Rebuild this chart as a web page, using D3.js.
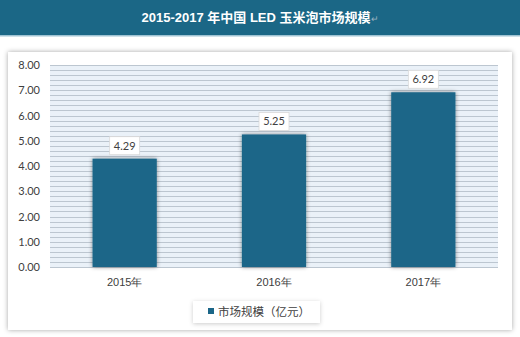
<!DOCTYPE html>
<html><head><meta charset="utf-8">
<script src="https://cdn.jsdelivr.net/npm/d3@7"></script>
<style>
html,body{margin:0;padding:0;background:#fff;}
svg{display:block;font-family:Lato,"Noto Sans CJK SC",sans-serif;}
</style></head>
<body><svg id="c" width="520" height="337"></svg>
<script>
const titleText = "2015-2017 年中国 LED 玉米泡市场规模";
const categories = ["2015年","2016年","2017年"];
const values = [4.29, 5.25, 6.92];
const yTicks = [0,1,2,3,4,5,6,7,8];
const seriesName = "市场规模（亿元）";

const svg = d3.select("#c");
const defs = svg.append("defs");
const f = defs.append("filter").attr("id","sh").attr("x","-20%").attr("y","-20%").attr("width","140%").attr("height","140%");
f.append("feDropShadow").attr("dx",0).attr("dy",0).attr("stdDeviation",2.5).attr("flood-color","#000").attr("flood-opacity",0.35);
const f2 = defs.append("filter").attr("id","bsh").attr("x","-20%").attr("y","-10%").attr("width","140%").attr("height","120%");
f2.append("feDropShadow").attr("dx",0).attr("dy",0).attr("stdDeviation",2).attr("flood-color","#000").attr("flood-opacity",0.45);
const f3 = defs.append("filter").attr("id","lsh").attr("x","-30%").attr("y","-50%").attr("width","160%").attr("height","200%");
f3.append("feDropShadow").attr("dx",0).attr("dy",1).attr("stdDeviation",2).attr("flood-color","#000").attr("flood-opacity",0.2);

// title bar
svg.append("rect").attr("x",0).attr("y",0).attr("width",520).attr("height",36).attr("fill","#1b6786");
svg.append("rect").attr("x",0).attr("y",35).attr("width",520).attr("height",1.5).attr("fill","#9fc3d3");
const tt = svg.append("text").attr("x",260).attr("y",22).attr("text-anchor","middle")
  .attr("fill","#fff").attr("font-size",13).attr("font-weight","bold")
  .attr("font-family","'Liberation Sans','Noto Sans CJK SC',sans-serif");
tt.append("tspan").text(titleText);
tt.append("tspan").attr("fill","#9bb3c0").attr("font-size",9).attr("font-weight","normal").text("↵");

// panel
svg.append("rect").attr("x",8).attr("y",52).attr("width",504).attr("height",278).attr("fill","#fff").attr("filter","url(#sh)");

const m = {l:50, r:498, t:65, b:267};
const x = d3.scaleBand().domain(categories).range([m.l,m.r]).paddingInner(0.57).paddingOuter(0.285);
const y = d3.scaleLinear().domain([0,8]).range([m.b,m.t]);

// plot area fill
svg.append("rect").attr("x",m.l).attr("y",m.t).attr("width",m.r-m.l).attr("height",m.b-m.t).attr("fill","#eaf1f8");
// stripes
const stripes = d3.range(0, 8.0001, 0.2);
svg.append("g").selectAll("line").data(stripes).join("line")
  .attr("x1",m.l).attr("x2",m.r).attr("y1",d=>Math.round(y(d))+0.5).attr("y2",d=>Math.round(y(d))+0.5)
  .attr("stroke","#bcc6d0").attr("stroke-width",1);

// y axis labels
const ya = svg.append("g").attr("transform",`translate(${m.l},0)`)
  .call(d3.axisLeft(y).tickValues(yTicks).tickFormat(d3.format(".2f")).tickSize(0).tickPadding(10));
ya.select(".domain").remove();
ya.selectAll("text").attr("font-size",11).attr("fill","#404040").attr("font-family","Lato,sans-serif");

// bars
svg.append("g").selectAll("rect").data(values).join("rect")
  .attr("x",(d,i)=>x(categories[i])).attr("width",x.bandwidth())
  .attr("y",d=>y(d)).attr("height",d=>y(0)-y(d))
  .attr("fill","#1b6688").attr("filter","url(#bsh)");

// data labels
const lg = svg.append("g");
values.forEach((v,i)=>{
  const cx = x(categories[i]) + x.bandwidth()/2;
  const cy = y(v) - 13;
  lg.append("rect").attr("x",cx-15).attr("y",cy-9).attr("width",30).attr("height",18)
    .attr("fill","#fff").attr("stroke","#d9d9d9").attr("stroke-width",0.8);
  lg.append("text").attr("x",cx).attr("y",cy+4).attr("text-anchor","middle")
    .attr("font-size",11).attr("fill","#404040").text(d3.format(".2f")(v));
});

// x axis
const xa = svg.append("g").attr("transform",`translate(0,${m.b})`)
  .call(d3.axisBottom(x).tickSize(0).tickPadding(11));
xa.select(".domain").remove();
xa.selectAll("text").attr("font-size",11).attr("fill","#404040");

// legend
svg.append("rect").attr("x",193).attr("y",301).attr("width",127).attr("height",22).attr("fill","#fff").attr("filter","url(#lsh)");
svg.append("rect").attr("x",208).attr("y",308).attr("width",6).attr("height",6).attr("fill","#1b6688");
svg.append("text").attr("x",218).attr("y",316).attr("font-size",11.5).attr("fill","#404040").text(seriesName);
</script></body></html>
